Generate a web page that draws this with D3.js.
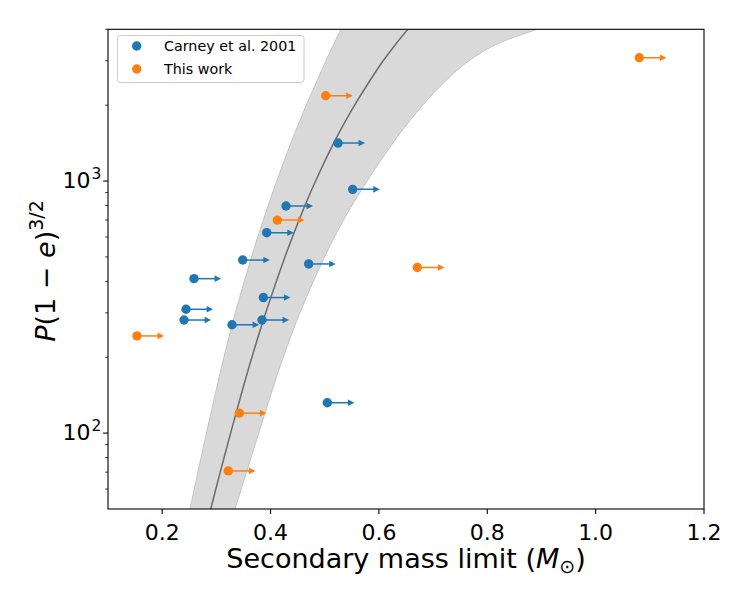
<!DOCTYPE html>
<html>
<head>
<meta charset="utf-8">
<script src="https://cdn.jsdelivr.net/npm/d3@7"></script>
<style>
  html, body { margin: 0; padding: 0; background: #fff; }
  svg { display: block; font-family: "DejaVu Sans", sans-serif; }
</style>
</head>
<body>
<svg id="chart" width="747" height="598"></svg>
<script>
// ---- Data ----
const carneyMass = [0.5245, 0.5516, 0.4285, 0.3929, 0.3486, 0.4704, 0.2587, 0.3867, 0.2440, 0.2403, 0.3289, 0.3842, 0.5048];
const carneyP    = [1415,   927,    796,    624,    486,    469,    410,    345,    310,    281,    269,    281,    132];
const thisMass   = [0.5018, 0.4125, 0.6709, 0.1535, 0.3424, 0.3220, 1.0806];
const thisP      = [2180,   700,    454,    243,    120,    70.8,   3085];
const arrowLength = 0.05;

// model curve and its band
const curveP     = [50,     70,     100,    150,    200,    300,    500,    700,    1000,   1500,   2000,   2500,   3000,   3500,   4000];
const curveMid   = [0.2896, 0.3071, 0.3263, 0.3488, 0.3656, 0.3911, 0.4266, 0.4526, 0.4831, 0.5227, 0.5552, 0.5833, 0.6079, 0.6313, 0.6533];
const curveLow   = [0.2513, 0.2659, 0.2817, 0.3002, 0.3139, 0.3350, 0.3650, 0.3866, 0.4114, 0.4422, 0.4660, 0.4859, 0.5021, 0.5168, 0.5296];
const curveHigh  = [0.3344, 0.3556, 0.3781, 0.4040, 0.4234, 0.4542, 0.4997, 0.5347, 0.5781, 0.6344, 0.6807, 0.7233, 0.7661, 0.8183, 0.8925];

const xTicks = [0.2, 0.4, 0.6, 0.8, 1.0, 1.2];
const xTickLabels = ["0.2", "0.4", "0.6", "0.8", "1.0", "1.2"];
const yMajorTicks = [100, 1000];
const yMajorExp = ["2", "3"];
const yMinorTicks = [60, 70, 80, 90, 200, 300, 400, 500, 600, 700, 800, 900, 2000, 3000, 4000];
const legendLabels = ["Carney et al. 2001", "This work"];
const colors = ["#1f77b4", "#ff7f0e"];

// ---- Layout ----
const svg = d3.select("#chart");
const L = 108, R = 704, T = 29.3, B = 509;
const x = d3.scaleLinear().domain([0.1, 1.2]).range([L, R]);
const y = d3.scaleLog().domain([50, 4000]).range([B, T]);

svg.append("defs").append("clipPath").attr("id", "clip")
  .append("rect").attr("x", L).attr("y", T).attr("width", R - L).attr("height", B - T);

const plot = svg.append("g").attr("clip-path", "url(#clip)");

// band
const bandData = curveP.map((p, i) => ({p, lo: curveLow[i], hi: curveHigh[i], mid: curveMid[i]}));
const crv = d3.curveCatmullRom.alpha(0.5);
plot.append("path").datum(bandData)
  .attr("d", d3.area().curve(crv)
    .y(d => y(d.p)).x0(d => x(d.lo)).x1(d => x(d.hi)))
  .attr("fill", "#d9d9d9").attr("stroke", "none");
["lo", "hi"].forEach(k => {
  plot.append("path").datum(bandData)
    .attr("d", d3.line().curve(crv).y(d => y(d.p)).x(d => x(d[k])))
    .attr("fill", "none").attr("stroke", "#c4c4c4").attr("stroke-width", 1);
});
plot.append("path").datum(bandData)
  .attr("d", d3.line().curve(crv).y(d => y(d.p)).x(d => x(d.mid)))
  .attr("fill", "none").attr("stroke", "#6c6c6c").attr("stroke-width", 1.5);

// points with lower-limit arrows
function drawSeries(ms, ps, color) {
  const g = plot.append("g");
  ms.forEach((m, i) => {
    const cx = x(m), cy = y(ps[i]), tip = x(m + arrowLength);
    g.append("line").attr("x1", cx).attr("x2", tip - 4).attr("y1", cy).attr("y2", cy)
      .attr("stroke", color).attr("stroke-width", 1.5);
    g.append("path")
      .attr("d", `M${tip},${cy} L${tip - 6.5},${cy - 3.3} L${tip - 6.5},${cy + 3.3} Z`)
      .attr("fill", color);
    g.append("circle").attr("cx", cx).attr("cy", cy).attr("r", 4.7).attr("fill", color);
  });
}
drawSeries(carneyMass, carneyP, colors[0]);
drawSeries(thisMass, thisP, colors[1]);

// frame
svg.append("rect").attr("x", L).attr("y", T).attr("width", R - L).attr("height", B - T)
  .attr("fill", "none").attr("stroke", "#000").attr("stroke-width", 1.1);

// x ticks
const xt = svg.append("g");
xTicks.forEach((t, i) => {
  xt.append("line").attr("x1", x(t)).attr("x2", x(t)).attr("y1", B).attr("y2", B + 4.9)
    .attr("stroke", "#000").attr("stroke-width", 1.1);
  xt.append("text").attr("x", x(t)).attr("y", B + 30.5).attr("text-anchor", "middle")
    .attr("font-size", 22).attr("fill", "#000").text(xTickLabels[i]);
});

// y ticks
const yt = svg.append("g");
yMinorTicks.forEach(t => {
  yt.append("line").attr("x1", L - 2.8).attr("x2", L).attr("y1", y(t)).attr("y2", y(t))
    .attr("stroke", "#000").attr("stroke-width", 0.8);
});
yMajorTicks.forEach((t, i) => {
  yt.append("line").attr("x1", L - 4.9).attr("x2", L).attr("y1", y(t)).attr("y2", y(t))
    .attr("stroke", "#000").attr("stroke-width", 1.1);
  const tx = yt.append("text").attr("x", 62.5).attr("y", y(t) + 6.5)
    .attr("font-size", 22).attr("fill", "#000");
  tx.append("tspan").text("10");
  tx.append("tspan").attr("font-size", 15.5).attr("dy", -9).attr("dx", 1).text(yMajorExp[i]);
});

// axis labels
const xl = svg.append("text").attr("x", (L + R) / 2).attr("y", 568).attr("text-anchor", "middle")
  .attr("font-size", 27).attr("fill", "#000");
xl.append("tspan").text("Secondary mass limit (");
xl.append("tspan").attr("font-style", "italic").text("M");
xl.append("tspan").attr("font-size", 19).attr("dy", 5).text("\u2299");
xl.append("tspan").attr("dy", -5).text(")");

const yl = svg.append("text").attr("transform", `translate(54.5,${271}) rotate(-90)`)
  .attr("text-anchor", "middle").attr("font-size", 27).attr("fill", "#000");
yl.append("tspan").attr("font-style", "italic").text("P");
yl.append("tspan").text("(1 \u2212 ");
yl.append("tspan").attr("font-style", "italic").text("e");
yl.append("tspan").text(")");
yl.append("tspan").attr("font-size", 19).attr("dy", -12).text("3/2");

// legend
const lg = svg.append("g");
lg.append("rect").attr("x", 117.5).attr("y", 35.5).attr("width", 186.5).attr("height", 47)
  .attr("rx", 3).attr("fill", "#fff").attr("fill-opacity", 0.8)
  .attr("stroke", "#cccccc").attr("stroke-width", 1);
legendLabels.forEach((lab, i) => {
  const cy = 46 + i * 23;
  lg.append("circle").attr("cx", 136.7).attr("cy", cy).attr("r", 4.7).attr("fill", colors[i]);
  lg.append("text").attr("x", 164).attr("y", cy + 5.3).attr("font-size", 14.3)
    .attr("fill", "#000").text(lab);
});
</script>
</body>
</html>
